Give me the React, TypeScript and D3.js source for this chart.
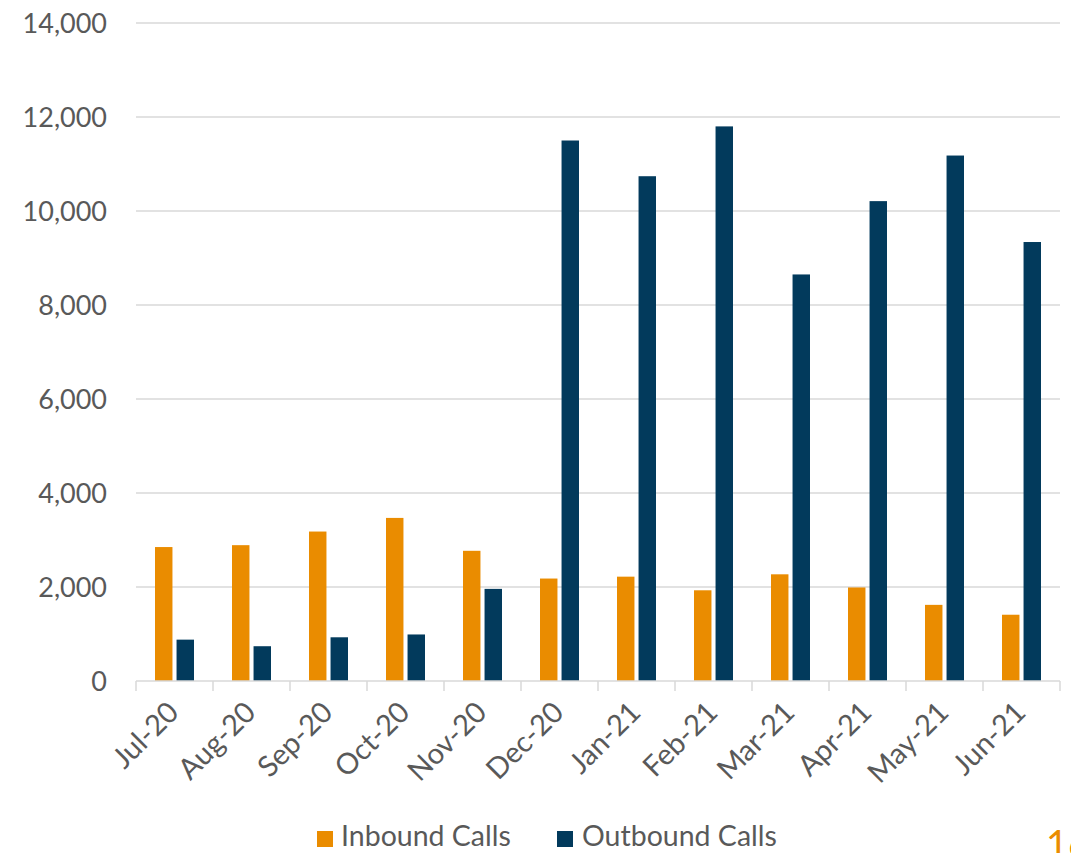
import * as React from "react";
import { scaleBand, scaleLinear } from "d3";

const months = [
  "Jul-20", "Aug-20", "Sep-20", "Oct-20", "Nov-20", "Dec-20",
  "Jan-21", "Feb-21", "Mar-21", "Apr-21", "May-21", "Jun-21",
];
const inbound = [2850, 2890, 3180, 3470, 2770, 2180, 2220, 1930, 2270, 1990, 1620, 1410];
const outbound = [880, 740, 930, 990, 1960, 11500, 10740, 11800, 8650, 10210, 11180, 9340];
const yTicks = [0, 2000, 4000, 6000, 8000, 10000, 12000, 14000];
const seriesNames = ["Inbound Calls", "Outbound Calls"];

const ORANGE = "#EA8C00";
const NAVY = "#023A5C";
const GRID = "#d9d9d9";
const TEXT = "#595959";
const FONT = "Lato, 'Open Sans', sans-serif";

function App() {
  const left = 136;
  const right = 1060;
  const top = 23;
  const bottom = 681;

  const x = scaleBand<string>().domain(months).range([left, right]).padding(0);
  const sub = scaleBand<string>().domain(seriesNames).range([19, 58]).paddingInner(0.19);
  const y = scaleLinear().domain([0, 14000]).range([bottom, top]);
  const fmt = (v: number) => v.toLocaleString("en-US");

  const series = [
    { name: seriesNames[0], values: inbound, color: ORANGE },
    { name: seriesNames[1], values: outbound, color: NAVY },
  ];

  return (
    <svg
      width={1071}
      height={853}
      style={{ position: "absolute", left: 0, top: 0, background: "#fff" }}
      fontFamily={FONT}
    >
      {/* gridlines + y labels */}
      {yTicks.map((t) => (
        <g key={t}>
          {t > 0 && (
            <line x1={left} x2={right} y1={y(t)} y2={y(t)} stroke={GRID} strokeWidth={1.5} />
          )}
          <text x={107} y={y(t)} dy="0.36em" textAnchor="end" fontSize={27} fill={TEXT}>
            {fmt(t)}
          </text>
        </g>
      ))}

      {/* bars */}
      {series.map((s) => (
        <g key={s.name}>
          {s.values.map((v, i) => (
            <rect
              key={months[i]}
              x={(x(months[i]) as number) + (sub(s.name) as number)}
              y={y(v)}
              width={sub.bandwidth()}
              height={y(0) - y(v)}
              fill={s.color}
            />
          ))}
        </g>
      ))}

      {/* x axis */}
      <line x1={left} x2={right} y1={bottom} y2={bottom} stroke={GRID} strokeWidth={1.5} />
      {[...months, "end"].map((m, i) => {
        const px = i < months.length ? (x(m) as number) : right;
        return <line key={m} x1={px} x2={px} y1={bottom} y2={bottom + 10} stroke={GRID} strokeWidth={1.5} />;
      })}
      {months.map((m) => {
        const cx = (x(m) as number) + x.bandwidth() / 2 + 6;
        const cy = bottom + 33;
        return (
          <text
            key={m}
            transform={`translate(${cx},${cy}) rotate(-45)`}
            textAnchor="end"
            fontSize={29}
            fill={TEXT}
          >
            {m}
          </text>
        );
      })}

      {/* legend */}
      <rect x={317} y={831} width={16} height={16} fill={ORANGE} />
      <text x={341} y={846} fontSize={28.5} fill={TEXT}>{seriesNames[0]}</text>
      <rect x={557} y={831} width={16} height={16} fill={NAVY} />
      <text x={582} y={846} fontSize={28.5} fill={TEXT}>{seriesNames[1]}</text>

      {/* page number, clipped at edge as in the slide */}
      <text x={1046} y={858} fontSize={38} fill={ORANGE}>16</text>
    </svg>
  );
}

export default App;
